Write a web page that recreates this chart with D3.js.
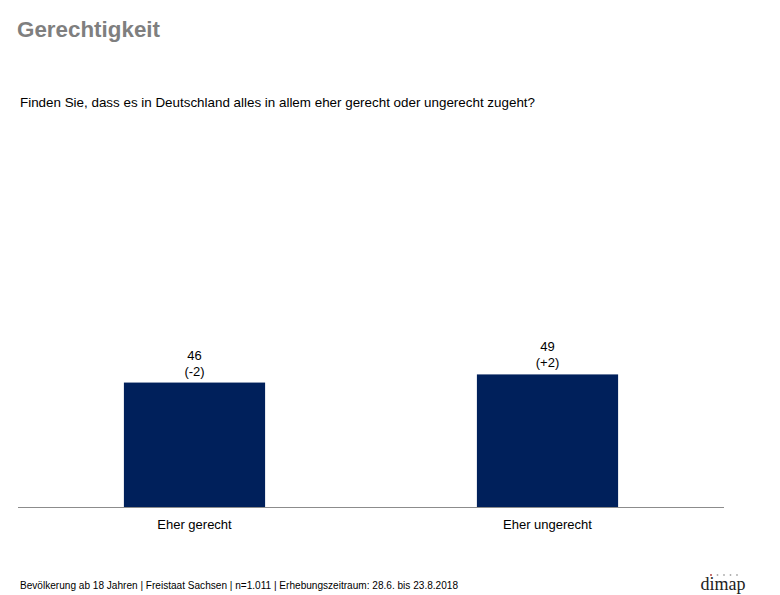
<!DOCTYPE html>
<html><head><meta charset="utf-8">
<script src="https://cdn.jsdelivr.net/npm/d3@7"></script>
<style>body{margin:0;background:#fff}svg{display:block}</style>
</head><body>
<script>
const categories = ["Eher gerecht", "Eher ungerecht"];
const values = [46, 49];
const changes = ["(-2)", "(+2)"];
const title = "Gerechtigkeit";
const question = "Finden Sie, dass es in Deutschland alles in allem eher gerecht oder ungerecht zugeht?";
const footer = "Bevölkerung ab 18 Jahren | Freistaat Sachsen | n=1.011 | Erhebungszeitraum: 28.6. bis 23.8.2018";

const W = 780, H = 595;
const SANS = "'Liberation Sans',Arial,sans-serif";
const svg = d3.select("body").append("svg").attr("width", W).attr("height", H)
  .style("font-family", SANS);

svg.append("text").attr("x", 17).attr("y", 37).attr("font-size", 22).attr("font-weight", "bold")
  .attr("fill", "#7f7f7f").attr("textLength", 143).attr("lengthAdjust", "spacingAndGlyphs").text(title);
svg.append("text").attr("x", 20).attr("y", 107).attr("font-size", 13.4).attr("fill", "#000")
  .attr("textLength", 515).attr("lengthAdjust", "spacingAndGlyphs").text(question);

const x = d3.scaleBand().domain(categories).range([18, 724]).paddingInner(0.6).paddingOuter(0.3);
const y = d3.scaleLinear().domain([0, 100]).range([507.5, 235.9]);

svg.selectAll("rect.bar").data(values).enter().append("rect").attr("class", "bar")
  .attr("x", (d, i) => x(categories[i])).attr("width", x.bandwidth())
  .attr("y", d => y(d)).attr("height", d => y(0) - y(d)).attr("fill", "#00205b");

svg.append("line").attr("x1", 18).attr("x2", 724).attr("y1", y(0)).attr("y2", y(0))
  .attr("stroke", "#8c8c8c").attr("stroke-width", 1.2);

const lab = svg.selectAll("g.lab").data(values).enter().append("g").attr("class", "lab");
lab.append("text").attr("x", (d, i) => x(categories[i]) + x.bandwidth() / 2).attr("y", d => y(d) - 23)
  .attr("text-anchor", "middle").attr("font-size", 13).attr("fill", "#000").text(d => d);
lab.append("text").attr("x", (d, i) => x(categories[i]) + x.bandwidth() / 2).attr("y", d => y(d) - 7)
  .attr("text-anchor", "middle").attr("font-size", 13).attr("fill", "#000").text((d, i) => changes[i]);

svg.selectAll("text.cat").data(categories).enter().append("text").attr("class", "cat")
  .attr("x", d => x(d) + x.bandwidth() / 2).attr("y", 529).attr("text-anchor", "middle")
  .attr("font-size", 13).attr("fill", "#000").text(d => d);

svg.append("text").attr("x", 20).attr("y", 589).attr("font-size", 10).attr("fill", "#000")
  .attr("textLength", 438).attr("lengthAdjust", "spacingAndGlyphs").text(footer);

// logo
const logo = svg.append("g");
logo.append("text").attr("x", 723).attr("y", 590).attr("text-anchor", "middle")
  .style("font-family", "'Liberation Serif','DejaVu Serif',serif").attr("font-size", 18).attr("fill", "#222")
  .attr("textLength", 45).attr("lengthAdjust", "spacingAndGlyphs").text("dimap");
[0,1,2,3,4].forEach(i => logo.append("circle").attr("cx", 711 + i * 6.5).attr("cy", 575).attr("r", 0.9)
  .attr("fill", i === 0 ? "#a33" : "#aaa"));
</script>
</body></html>
